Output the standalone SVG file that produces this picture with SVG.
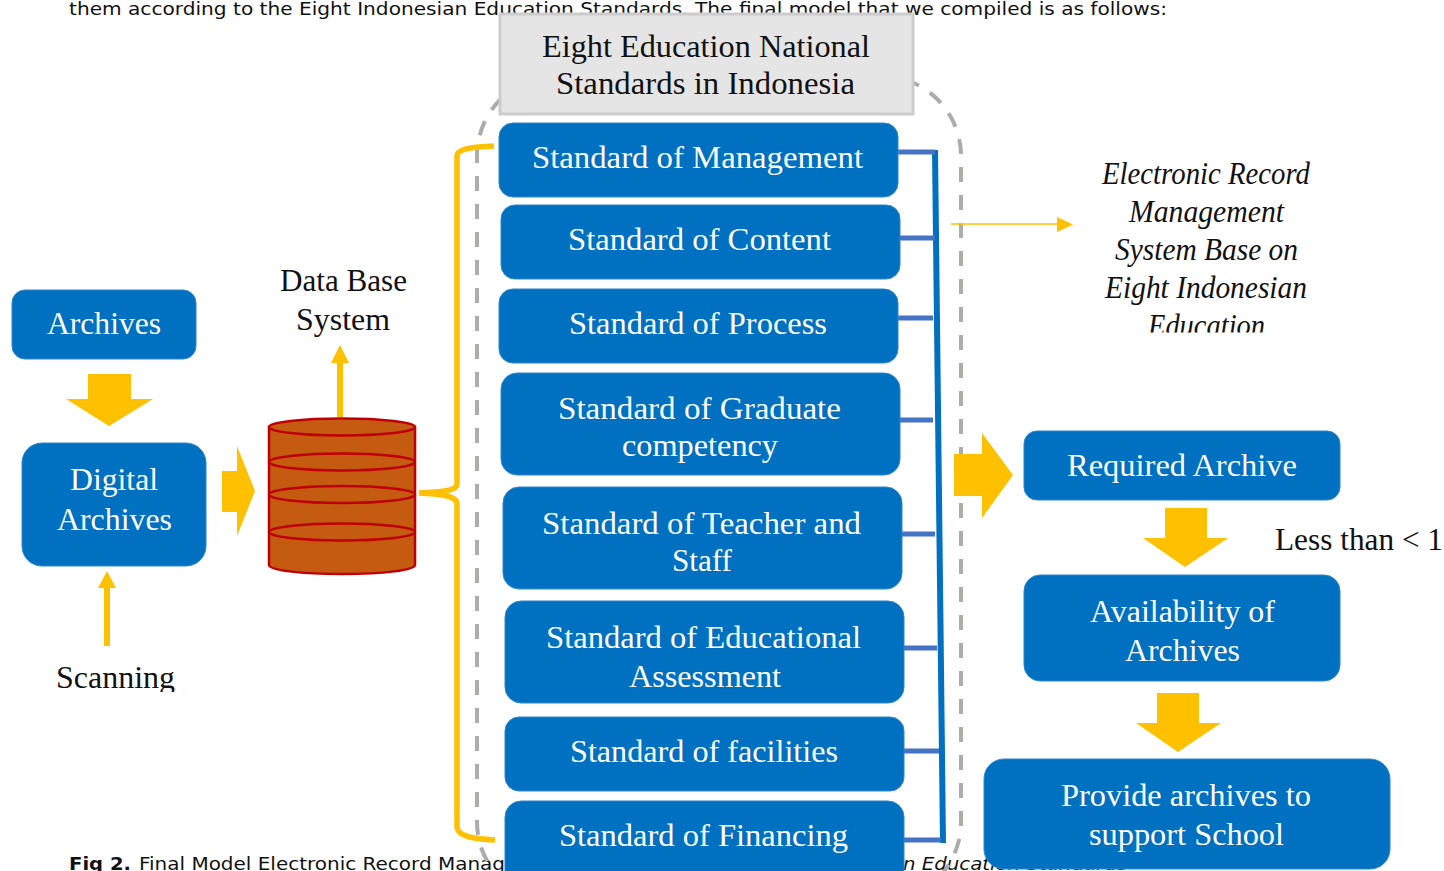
<svg xmlns="http://www.w3.org/2000/svg" width="1444" height="871" viewBox="0 0 1444 871">
<style>
.s{font-family:"Liberation Serif","DejaVu Serif",serif;font-size:32px;fill:#111}
.w{fill:#fff}
.i{font-style:italic}
.b{font-family:"DejaVu Sans","Liberation Sans",sans-serif;font-size:18.500px;fill:#111}
.box{fill:#0070C0;stroke:#2E86CC;stroke-width:1}
.arrow{fill:#FFC000}
.tick{stroke:#4472C4;stroke-width:5;fill:none}
.db{fill:#C55A11;stroke:#C00000;stroke-width:2.5}
.dash{fill:none;stroke:#AEABAB;stroke-width:4;stroke-dasharray:15 13}
</style>
<defs>
<clipPath id="edu"><rect x="1080" y="150" width="250" height="182.500"/></clipPath>
<clipPath id="scan"><rect x="40" y="650" width="150" height="42"/></clipPath>
</defs>
<rect width="1444" height="871" fill="#fff"/>
<g id="page-text">
<text class="b" x="69" y="15" textLength="1098" lengthAdjust="spacingAndGlyphs">them according to the Eight Indonesian Education Standards. The final model that we compiled is as follows:</text>
<text class="b" x="69" y="870" font-weight="bold" textLength="62" lengthAdjust="spacingAndGlyphs">Fig 2.</text>
<text class="b" x="139" y="870" textLength="366" lengthAdjust="spacingAndGlyphs">Final Model Electronic Record Manag</text>
<text class="b" x="903" y="870" font-style="italic" textLength="224" lengthAdjust="spacingAndGlyphs">n Education Standards</text>
</g>
<g id="connectors">
<path class="dash" d="M961 167V822A80 80 0 0 1 881 902"/>
<path class="dash" style="stroke-dashoffset:15" d="M961 167V156A80 80 0 0 0 881 76"/>
<path class="dash" d="M477 288V822A80 80 0 0 0 557 902"/>
<path class="dash" style="stroke-dashoffset:15" d="M477 288V156A80 80 0 0 1 557 76"/>
<path d="M494 146C475 147 457 148 457 156V484C457 490 445 492 419 493C445 494 457 497 457 504V826C457 837 475 839 495 840" fill="none" stroke="#FFC000" stroke-width="5.500"/>
<path d="M935 150L943 843" fill="none" stroke="#0070C0" stroke-width="6"/>
<path class="tick" d="M898 152H935M900 238H935M898 318H933M900 420H933M902 534H935M904 648H937M904 751H939M904 840H941"/>
<path d="M951 224H1058" fill="none" stroke="#FFC000" stroke-width="1.500"/>
<polygon class="arrow" points="1057,217 1073,224.500 1057,232"/>
<polygon class="arrow" points="88,374 131,374 131,399 153,399 109,426 66,399 88,399"/>
<polygon class="arrow" points="222,471 237,471 237,446 255,491 237,536 237,512 222,512"/>
<polygon class="arrow" points="104,646 110,646 110,588 116,588 107,571 98,588 104,588"/>
<polygon class="arrow" points="337,421 343,421 343,363 349,363 340,345 331,363 337,363"/>
<polygon class="arrow" points="954,454 982,454 982,433 1013,475 982,518 982,496 954,496"/>
<polygon class="arrow" points="1165,508 1207,508 1207,538 1228,538 1185,567 1143,538 1165,538"/>
<polygon class="arrow" points="1157,693 1199,693 1199,723 1221,723 1178,752 1136,723 1157,723"/>
</g>
<g id="node-top">
<rect x="500" y="14" width="413" height="100" fill="#E5E5E5" stroke="#CCCCCC" stroke-width="3"/>
<text class="s" x="542" y="57" textLength="328" lengthAdjust="spacingAndGlyphs">Eight Education National</text>
<text class="s" x="556" y="94" textLength="299" lengthAdjust="spacingAndGlyphs">Standards in Indonesia</text>
</g>
<g id="node-management"><rect class="box" x="499" y="123" width="399" height="74" rx="14"/><text class="s w" x="532" y="168" textLength="331" lengthAdjust="spacingAndGlyphs">Standard of Management</text></g>
<g id="node-content"><rect class="box" x="501" y="205" width="399" height="74" rx="14"/><text class="s w" x="568" y="250" textLength="263" lengthAdjust="spacingAndGlyphs">Standard of Content</text></g>
<g id="node-process"><rect class="box" x="499" y="289" width="399" height="74" rx="14"/><text class="s w" x="569" y="334" textLength="258" lengthAdjust="spacingAndGlyphs">Standard of Process</text></g>
<g id="node-graduate"><rect class="box" x="501" y="373" width="399" height="102" rx="16"/><text class="s w" x="558" y="419" textLength="283" lengthAdjust="spacingAndGlyphs">Standard of Graduate</text><text class="s w" x="622" y="456" textLength="156" lengthAdjust="spacingAndGlyphs">competency</text></g>
<g id="node-teacher"><rect class="box" x="503" y="487" width="399" height="102" rx="16"/><text class="s w" x="542" y="534" textLength="319" lengthAdjust="spacingAndGlyphs">Standard of Teacher and</text><text class="s w" x="672" y="571" textLength="60" lengthAdjust="spacingAndGlyphs">Staff</text></g>
<g id="node-assessment"><rect class="box" x="505" y="601" width="399" height="102" rx="16"/><text class="s w" x="546" y="648" textLength="315" lengthAdjust="spacingAndGlyphs">Standard of Educational</text><text class="s w" x="629" y="687" textLength="152" lengthAdjust="spacingAndGlyphs">Assessment</text></g>
<g id="node-facilities"><rect class="box" x="505" y="717" width="399" height="74" rx="14"/><text class="s w" x="570" y="762" textLength="268" lengthAdjust="spacingAndGlyphs">Standard of facilities</text></g>
<g id="node-financing"><rect class="box" x="505" y="801" width="399" height="90" rx="16"/><text class="s w" x="559" y="846" textLength="289" lengthAdjust="spacingAndGlyphs">Standard of Financing</text></g>
<g id="node-archives"><rect class="box" x="12" y="290" width="184" height="69" rx="13"/><text class="s w" x="47" y="334" textLength="114" lengthAdjust="spacingAndGlyphs">Archives</text></g>
<g id="node-digital"><rect class="box" x="22" y="443" width="184" height="123" rx="20"/><text class="s w" x="70" y="490" textLength="88" lengthAdjust="spacingAndGlyphs">Digital</text><text class="s w" x="57" y="530" textLength="115" lengthAdjust="spacingAndGlyphs">Archives</text></g>
<g id="node-database">
<path class="db" d="M269 427V565C269 570 300 574 342 574C384 574 415 570 415 565V427Z"/>
<ellipse class="db" cx="342" cy="427" rx="73" ry="8.500"/>
<ellipse class="db" cx="342" cy="462" rx="73" ry="8.500"/>
<ellipse class="db" cx="342" cy="494.500" rx="73" ry="8.500"/>
<ellipse class="db" cx="342" cy="532" rx="73" ry="8.500"/>
</g>
<g id="label-database"><text class="s" x="280" y="291" textLength="127" lengthAdjust="spacingAndGlyphs">Data Base</text><text class="s" x="296" y="330" textLength="94" lengthAdjust="spacingAndGlyphs">System</text></g>
<g id="label-scanning"><text class="s" x="56" y="688" textLength="119" lengthAdjust="spacingAndGlyphs" clip-path="url(#scan)">Scanning</text></g>
<g id="label-erms" clip-path="url(#edu)">
<text class="s i" x="1102" y="184" textLength="208" lengthAdjust="spacingAndGlyphs">Electronic Record</text>
<text class="s i" x="1129" y="222" textLength="155" lengthAdjust="spacingAndGlyphs">Management</text>
<text class="s i" x="1115" y="260" textLength="183" lengthAdjust="spacingAndGlyphs">System Base on</text>
<text class="s i" x="1105" y="298" textLength="202" lengthAdjust="spacingAndGlyphs">Eight Indonesian</text>
<text class="s i" x="1148" y="336" textLength="117" lengthAdjust="spacingAndGlyphs">Education</text>
</g>
<g id="node-required"><rect class="box" x="1024" y="431" width="316" height="69" rx="13"/><text class="s w" x="1067" y="476" textLength="230" lengthAdjust="spacingAndGlyphs">Required Archive</text></g>
<g id="label-less"><text class="s" x="1275" y="550" textLength="168" lengthAdjust="spacingAndGlyphs">Less than &lt; 1</text></g>
<g id="node-availability"><rect class="box" x="1024" y="575" width="316" height="106" rx="16"/><text class="s w" x="1090" y="622" textLength="185" lengthAdjust="spacingAndGlyphs">Availability of</text><text class="s w" x="1125" y="661" textLength="115" lengthAdjust="spacingAndGlyphs">Archives</text></g>
<g id="node-provide"><rect class="box" x="984" y="759" width="406" height="110" rx="20"/><text class="s w" x="1061" y="806" textLength="250" lengthAdjust="spacingAndGlyphs">Provide archives to</text><text class="s w" x="1089" y="845" textLength="195" lengthAdjust="spacingAndGlyphs">support School</text></g>
</svg>
